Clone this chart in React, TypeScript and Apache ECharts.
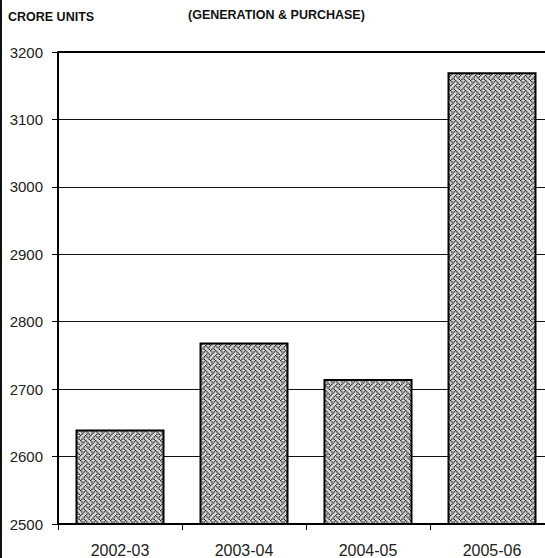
import React, { useEffect, useRef } from "react";
import * as echarts from "echarts";

const categories = ["2002-03", "2003-04", "2004-05", "2005-06"];
const values = [2640, 2769, 2715, 3170];
const yMin = 2500;
const yMax = 3200;
const yStep = 100;
const unitLabel = "CRORE UNITS";
const titleText = "(GENERATION & PURCHASE)";

function makePattern(): HTMLCanvasElement {
  const rows = [
    "10001000",
    "01010100",
    "00100010",
    "01000101",
    "10001000",
    "00010101",
    "00100010",
    "01010001",
  ];
  const s = 1.25;
  const c = document.createElement("canvas");
  c.width = 10;
  c.height = 10;
  const ctx = c.getContext("2d")!;
  ctx.fillStyle = "#d4d4d4";
  ctx.fillRect(0, 0, 10, 10);
  ctx.fillStyle = "#222222";
  rows.forEach((r, y) => {
    for (let x = 0; x < 8; x++) {
      if (r[x] === "1") ctx.fillRect(x * s, y * s, s, s);
    }
  });
  return c;
}

export default function App() {
  const ref = useRef<HTMLDivElement>(null);
  useEffect(() => {
    if (!ref.current) return;
    const chart = echarts.init(ref.current, null, { renderer: "svg" });
    const pattern = makePattern();
    const font = "'Liberation Sans', Arial, sans-serif";
    chart.setOption({
      animation: false,
      backgroundColor: "#ffffff",
      grid: { left: 58, top: 52, width: 496, bottom: 34, containLabel: false },
      graphic: [
        { type: "rect", left: 0, top: 0, shape: { width: 2, height: 558 }, style: { fill: "#111" } },
        {
          type: "text",
          left: 8,
          top: 10,
          style: { text: unitLabel, font: `bold 12.5px ${font}`, fill: "#111" },
        },
        {
          type: "text",
          left: 188,
          top: 8,
          style: { text: titleText, font: `bold 12.5px ${font}`, fill: "#111" },
        },
      ],
      xAxis: {
        type: "category",
        data: categories,
        axisLine: { show: true, lineStyle: { color: "#000", width: 2 } },
        axisTick: { show: true, length: 6, alignWithLabel: false, lineStyle: { color: "#000", width: 1 } },
        axisLabel: { color: "#222", fontSize: 16, fontFamily: font, margin: 18 },
        splitLine: { show: false },
      },
      yAxis: {
        type: "value",
        min: yMin,
        max: yMax,
        interval: yStep,
        axisLine: { show: true, lineStyle: { color: "#000", width: 2 } },
        axisTick: { show: true, length: 6, inside: false, lineStyle: { color: "#000", width: 1 } },
        axisLabel: { color: "#222", fontSize: 15, fontFamily: font, margin: 15, formatter: (v: number) => String(v) },
        splitLine: { show: true, lineStyle: { color: "#111", width: 1 } },
      },
      series: [
        {
          type: "bar",
          data: values,
          barWidth: 89,
          itemStyle: {
            color: { image: pattern, repeat: "repeat" },
            borderColor: "#000",
            borderWidth: 2,
          },
          markLine: {
            silent: true,
            symbol: "none",
            label: { show: false },
            lineStyle: { color: "#000", width: 2, type: "solid" },
            data: [{ yAxis: yMax }],
          },
        },
      ],
    });
    return () => chart.dispose();
  }, []);
  return (
    <div style={{ width: 545, height: 558, position: "absolute", left: 0, top: 0, overflow: "hidden" }}>
      <div ref={ref} style={{ width: 556, height: 558 }} />
    </div>
  );
}
